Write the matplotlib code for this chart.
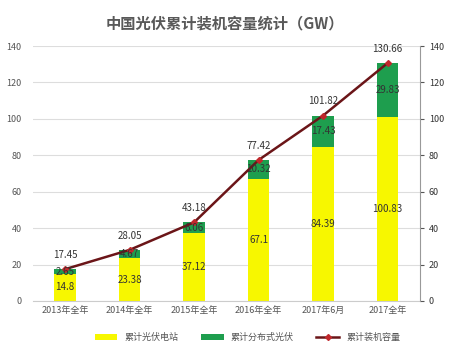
"""
China cumulative PV installed capacity chart.
"""

import matplotlib.pyplot as plt
import numpy as np

plt.rcParams["font.family"] = ["Noto Sans CJK SC", "DejaVu Sans"]

categories = ["2013年全年", "2014年全年", "2015年全年", "2016年全年", "2017年6月", "2017全年"]
station = [14.8, 23.38, 37.12, 67.1, 84.39, 100.83]
distributed = [2.65, 4.67, 6.06, 10.32, 17.43, 29.83]
total = [17.45, 28.05, 43.18, 77.42, 101.82, 130.66]

fig = plt.figure(figsize=(4.5, 3.57), dpi=100)
ax = fig.add_axes([0.073, 0.157, 0.86, 0.714])
x = np.arange(len(categories))

yellow = "#F7F700"
green = "#1E9E4E"
b1 = ax.bar(x, station, width=0.33, color=yellow, label="累计光伏电站", zorder=2)
b2 = ax.bar(x, distributed, width=0.33, bottom=station, color=green, label="累计分布式光伏", zorder=2)
l1, = ax.plot(x, total, color="#6B1518", lw=1.8, marker="D", ms=3,
              mfc="#C0282C", mec="#C0282C", label="累计装机容量", zorder=3)

for i in range(len(x)):
    ax.text(x[i], station[i] / 2, f"{station[i]:g}", ha="center", va="center",
            fontsize=7, color="#333333", zorder=4)
    ax.text(x[i], station[i] + distributed[i] / 2, f"{distributed[i]:g}", ha="center",
            va="center", fontsize=7, color="#333333", zorder=4)
    ax.text(x[i], total[i] + 5, f"{total[i]:g}", ha="center", va="bottom",
            fontsize=7, color="#333333", zorder=4)

ax.set_ylim(0, 140)
ax.set_xlim(-0.5, len(x) - 0.5)
ax.set_yticks(range(0, 141, 20))
ax.set_xticks(x)
ax.set_xticklabels(categories)
ax.grid(axis="y", color="#DDDDDD", lw=0.8, zorder=0)
ax.set_axisbelow(True)
for s in ["top", "left", "right"]:
    ax.spines[s].set_visible(False)
ax.spines["bottom"].set_color("#CCCCCC")
ax.tick_params(axis="both", labelsize=6.5, colors="#555555", length=0)
ax.tick_params(axis="y", pad=8)

ax2 = ax.twinx()
ax2.set_ylim(0, 140)
ax2.set_yticks(range(0, 141, 20))
for s in ["top", "left", "bottom"]:
    ax2.spines[s].set_visible(False)
ax2.spines["right"].set_color("#999999")
ax2.tick_params(axis="y", labelsize=6.5, colors="#555555", length=3, direction="out")
for lbl in ax2.get_yticklabels():
    lbl.set_color("#333333")

fig.text(0.5, 0.935, "中国光伏累计装机容量统计（GW）", ha="center", va="center",
         fontsize=11, fontweight="bold", color="#595959")

fig.legend([b1, b2, l1], ["累计光伏电站", "累计分布式光伏", "累计装机容量"],
           loc="center", bbox_to_anchor=(0.55, 0.055), ncol=3,
           frameon=False, fontsize=6.5, handlelength=2.5, columnspacing=2.5,
           labelcolor="#555555")

fig.savefig("out.png", dpi=100)
